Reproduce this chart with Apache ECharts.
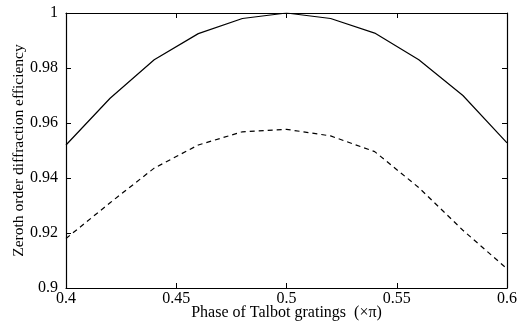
<!DOCTYPE html>
<html>
<head>
<meta charset="utf-8">
<script src="https://cdn.jsdelivr.net/npm/echarts@6/dist/echarts.min.js"></script>
<style>
  html, body { margin: 0; padding: 0; background: #fff; }
  #main { width: 524px; height: 326px; }
</style>
</head>
<body>
<div id="main"></div>
<script>
var phase = [0.40, 0.42, 0.44, 0.46, 0.48, 0.50, 0.52, 0.54, 0.56, 0.58, 0.60];
var solidEff = [0.952, 0.969, 0.983, 0.9925, 0.998, 1.0, 0.998, 0.9927, 0.983, 0.970, 0.9528];
var dashedEff = [0.918, 0.931, 0.9436, 0.952, 0.9568, 0.9577, 0.9553, 0.9496, 0.9365, 0.921, 0.907];

function pairs(xs, ys) {
    return xs.map(function (x, i) { return [x, ys[i]]; });
}

var font = 'Liberation Serif';
var myChart = echarts.init(document.getElementById('main'));

var axisCommon = {
    axisLine: { show: true, lineStyle: { color: '#000', width: 1.2 } },
    axisTick: { show: true, inside: true, length: 5, lineStyle: { color: '#000' } },
    splitLine: { show: false }
};

myChart.setOption({
    animation: false,
    grid: { left: 66, right: 17, top: 13, bottom: 38, containLabel: false, outerBoundsMode: 'none' },
    xAxis: [
        Object.assign({
            type: 'value', min: 0.4, max: 0.6, interval: 0.05,
            name: 'Phase of Talbot gratings  (\u00d7\u03c0)',
            nameLocation: 'middle', nameGap: 17, nameMoveOverlap: false,
            nameTextStyle: { fontFamily: font, fontSize: 16, color: '#000' },
            axisLabel: { fontFamily: font, fontSize: 16, color: '#000', margin: 3 }
        }, axisCommon),
        Object.assign({
            type: 'value', min: 0.4, max: 0.6, interval: 0.05, position: 'top',
            axisLabel: { show: false }
        }, axisCommon)
    ],
    yAxis: [
        Object.assign({
            type: 'value', min: 0.9, max: 1, interval: 0.02,
            name: 'Zeroth order diffraction efficiency',
            nameLocation: 'middle', nameGap: 39, nameMoveOverlap: false,
            nameTextStyle: { fontFamily: font, fontSize: 15.5, color: '#000' },
            axisLabel: { fontFamily: font, fontSize: 16, color: '#000', margin: 8 }
        }, axisCommon),
        Object.assign({
            type: 'value', min: 0.9, max: 1, interval: 0.02, position: 'right',
            axisLabel: { show: false }
        }, axisCommon)
    ],
    series: [
        {
            type: 'line', data: pairs(phase, solidEff), showSymbol: false,
            lineStyle: { color: '#000', width: 1.2 }
        },
        {
            type: 'line', data: pairs(phase, dashedEff), showSymbol: false,
            lineStyle: { color: '#000', width: 1.2, type: [5, 4] }
        }
    ]
});
</script>
</body>
</html>
